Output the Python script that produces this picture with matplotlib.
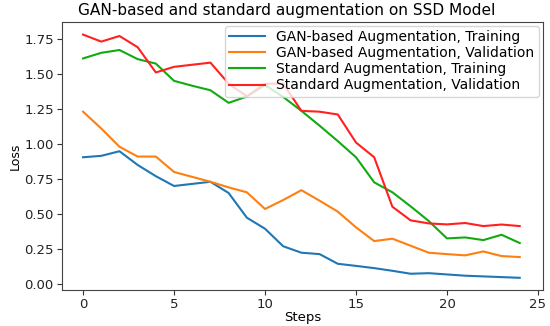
import matplotlib
matplotlib.use("Agg")
import matplotlib.pyplot as plt

steps = list(range(25))
gan_train = [0.905, 0.915, 0.948, 0.85, 0.77, 0.70, 0.715, 0.73, 0.65, 0.474, 0.395,
             0.27, 0.224, 0.214, 0.145, 0.13, 0.114, 0.095, 0.074, 0.078, 0.069,
             0.06, 0.055, 0.05, 0.045]
gan_val = [1.23, 1.11, 0.98, 0.91, 0.91, 0.80, 0.765, 0.73, 0.69, 0.655, 0.536,
           0.60, 0.67, 0.595, 0.517, 0.405, 0.307, 0.324, 0.274, 0.224, 0.214,
           0.205, 0.233, 0.20, 0.193]
std_train = [1.61, 1.65, 1.67, 1.605, 1.573, 1.45, 1.415, 1.383, 1.293, 1.338, 1.42,
             1.335, 1.236, 1.13, 1.02, 0.905, 0.726, 0.655, 0.555, 0.45, 0.326,
             0.333, 0.314, 0.352, 0.293]
std_val = [1.78, 1.73, 1.77, 1.69, 1.51, 1.55, 1.565, 1.58, 1.43, 1.34, 1.43,
           1.43, 1.236, 1.23, 1.21, 1.01, 0.905, 0.552, 0.455, 0.433, 0.426,
           0.436, 0.414, 0.425, 0.414]
labels = ["GAN-based Augmentation, Training", "GAN-based Augmentation, Validation",
          "Standard Augmentation, Training", "Standard Augmentation, Validation"]
colors = ["#1f77b4", "#ff7f0e", "#12aa12", "#ff2020"]

fig = plt.figure(figsize=(5.5, 3.26), dpi=100)
ax = fig.add_axes([0.113, 0.110, 0.874, 0.823])
for ys, lab, c in zip([gan_train, gan_val, std_train, std_val], labels, colors):
    ax.plot(steps, ys, color=c, lw=1.5, label=lab)

ax.set_xlim(-1.15, 25.27)
ax.set_ylim(-0.043, 1.871)
ax.set_xticks([0, 5, 10, 15, 20, 25])
ax.set_yticks([0.0, 0.25, 0.5, 0.75, 1.0, 1.25, 1.5, 1.75])
ax.tick_params(labelsize=9.5, colors="#333333", labelcolor="#222222", pad=2.5)
for s in ax.spines.values():
    s.set_color("#444444")
ax.set_xlabel("Steps", fontsize=9.5, labelpad=0)
ax.set_ylabel("Loss", fontsize=9, labelpad=2)
ax.set_title("GAN-based and standard augmentation on SSD Model", fontsize=11.1,
             pad=5, x=0.468)
ax.legend(loc="upper right", fontsize=10, labelspacing=0.15, handlelength=2.6,
          borderpad=0.3, borderaxespad=0.3, framealpha=0.8)
fig.savefig("out.png", dpi=100)
